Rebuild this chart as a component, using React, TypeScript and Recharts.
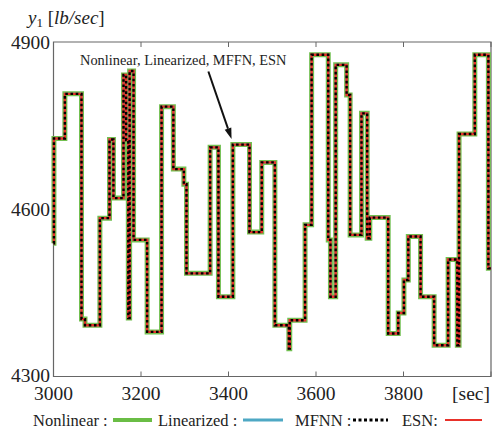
import { LineChart, Line, XAxis, YAxis, ReferenceArea, ReferenceLine } from "recharts";

// step change times [sec] and flow values [lb/sec]
const timeSec = [
  3000, 3001, 3026, 3064, 3072, 3106, 3128, 3137, 3160, 3166, 3171, 3174, 3183,
  3214, 3247, 3274, 3298, 3304, 3358, 3377, 3410, 3448, 3476, 3506, 3538, 3540,
  3575, 3590, 3628, 3633, 3645, 3670, 3678, 3704, 3717, 3723, 3765, 3788, 3801,
  3811, 3839, 3870, 3902, 3923, 3927, 3963, 3994, 4000,
];
const nonlinear = [
  4539, 4727, 4807, 4403, 4392, 4584, 4725, 4620, 4841, 4724, 4405, 4848, 4545,
  4380, 4784, 4672, 4645, 4485, 4711, 4443, 4716, 4559, 4684, 4392, 4350, 4401,
  4572, 4877, 4545, 4443, 4859, 4805, 4554, 4772, 4548, 4585, 4377, 4414, 4473,
  4551, 4443, 4356, 4510, 4356, 4735, 4877, 4494, 4494,
];
// the four model outputs lie on top of each other in the figure
const linearized = nonlinear;
const mfnn = nonlinear;
const esn = nonlinear;

const xTicks = [3000, 3200, 3400, 3600, 3800, 4000];
const yTicks = [4300, 4600, 4900];

const W = 494;
const H = 434;
const PLOT_TOP = 42;
const PLOT_BOTTOM = 376.5;
const PLOT_LEFT = 53.5;
const FONT = "'Liberation Serif', 'Times New Roman', serif";

const data = timeSec.map((t, i) => ({
  t,
  nonlinear: nonlinear[i],
  linearized: linearized[i],
  mfnn: mfnn[i],
  esn: esn[i],
}));

const BottomTick = (props: any) => {
  const { x, payload } = props;
  return (
    <g>
      <line x1={x} x2={x} y1={PLOT_BOTTOM} y2={PLOT_BOTTOM - 5} stroke="#666" />
      {payload.value < 4000 && (
        <text
          x={x}
          y={PLOT_BOTTOM + 17}
          textAnchor="middle"
          dominantBaseline="central"
          fontSize={19.5}
          fontFamily={FONT}
          fill="#222"
        >
          {payload.value}
        </text>
      )}
    </g>
  );
};

const TopTick = (props: any) => {
  const { x } = props;
  return <line x1={x} x2={x} y1={PLOT_TOP} y2={PLOT_TOP + 5} stroke="#666" />;
};

const LeftTick = (props: any) => {
  const { y, payload } = props;
  return (
    <text
      x={50}
      y={payload.value === 4300 ? y - 1 : y}
      textAnchor="end"
      dominantBaseline="central"
      fontSize={19.5}
      fontFamily={FONT}
      fill="#222"
    >
      {payload.value}
    </text>
  );
};

const Arrow = (props: any) => {
  const { x1, y1, x2, y2 } = props;
  if (x1 == null) return null;
  const a = Math.atan2(y2 - y1, x2 - x1);
  const len = 11;
  const half = 3.5;
  const bx = x2 - len * Math.cos(a);
  const by = y2 - len * Math.sin(a);
  const px = -Math.sin(a) * half;
  const py = Math.cos(a) * half;
  return (
    <g>
      <line x1={x1} y1={y1} x2={bx} y2={by} stroke="#111" strokeWidth={2} />
      <polygon
        points={`${x2},${y2} ${bx + px},${by + py} ${bx - px},${by - py}`}
        fill="#111"
      />
    </g>
  );
};

export default function App() {
  return (
    <div style={{ position: "absolute", left: 0, top: 0, width: W, height: H, background: "#fff" }}>
      <LineChart
        width={W}
        height={H}
        data={data}
        margin={{ top: PLOT_TOP - 10, right: 3, bottom: H - PLOT_BOTTOM - 40, left: 0 }}
      >
        <XAxis
          dataKey="t"
          type="number"
          domain={[3000, 4000]}
          ticks={xTicks}
          height={40}
          axisLine={false}
          tickLine={false}
          tick={BottomTick}
          interval={0}
        />
        <XAxis
          xAxisId="top"
          orientation="top"
          dataKey="t"
          type="number"
          domain={[3000, 4000]}
          ticks={xTicks}
          height={10}
          axisLine={false}
          tickLine={false}
          tick={TopTick}
          interval={0}
        />
        <YAxis
          type="number"
          domain={[4300, 4900]}
          ticks={yTicks}
          width={PLOT_LEFT}
          axisLine={false}
          tickLine={false}
          tick={LeftTick}
          interval={0}
        />
        <ReferenceArea x1={3000} x2={4000} y1={4300} y2={4900} fill="none" stroke="#666" strokeWidth={1.2} />
        <Line
          type="stepAfter"
          dataKey="nonlinear"
          stroke="#72c051"
          strokeWidth={5}
          dot={false}
          activeDot={false}
          isAnimationActive={false}
        />
        <Line
          type="stepAfter"
          dataKey="linearized"
          stroke="#4ea8c4"
          strokeWidth={2}
          dot={false}
          activeDot={false}
          isAnimationActive={false}
        />
        <Line
          type="stepAfter"
          dataKey="esn"
          stroke="#e8312a"
          strokeWidth={2.4}
          dot={false}
          activeDot={false}
          isAnimationActive={false}
        />
        <Line
          type="stepAfter"
          dataKey="mfnn"
          stroke="#000"
          strokeWidth={2.4}
          strokeDasharray="2.6 2.6"
          dot={false}
          activeDot={false}
          isAnimationActive={false}
        />
        <ReferenceLine
          segment={[
            { x: 3354, y: 4847 },
            { x: 3407, y: 4726 },
          ]}
          shape={Arrow}
        />
      </LineChart>
      <svg
        width={W}
        height={H}
        style={{ position: "absolute", left: 0, top: 0, pointerEvents: "none" }}
        fontFamily={FONT}
        fill="#222"
      >
        <text x={28} y={24} fontSize={19}>
          <tspan fontStyle="italic">y</tspan>
          <tspan fontSize={13} dy={3}>1</tspan>
          <tspan dy={-3}> [</tspan>
          <tspan fontStyle="italic">lb/sec</tspan>
          <tspan>]</tspan>
        </text>
        <text x={80} y={60} fontSize={14.4} dominantBaseline="central">
          Nonlinear, Linearized, MFFN, ESN
        </text>
        <text x={490} y={393} fontSize={19.5} textAnchor="end" dominantBaseline="central">
          [sec]
        </text>
        <g fontSize={16.5}>
          <text x={33} y={420} dominantBaseline="central">Nonlinear :</text>
          <line x1={113} x2={152} y1={420} y2={420} stroke="#6abd45" strokeWidth={4} />
          <text x={158} y={420} dominantBaseline="central">Linearized :</text>
          <line x1={243} x2={283} y1={420} y2={420} stroke="#4ea8c4" strokeWidth={3} />
          <text x={295} y={420} dominantBaseline="central">MFNN :</text>
          <line x1={353} x2={388} y1={420} y2={420} stroke="#000" strokeWidth={3} strokeDasharray="3 2.5" />
          <text x={402} y={420} dominantBaseline="central">ESN:</text>
          <line x1={445} x2={482} y1={420} y2={420} stroke="#e8312a" strokeWidth={2} />
        </g>
      </svg>
    </div>
  );
}
